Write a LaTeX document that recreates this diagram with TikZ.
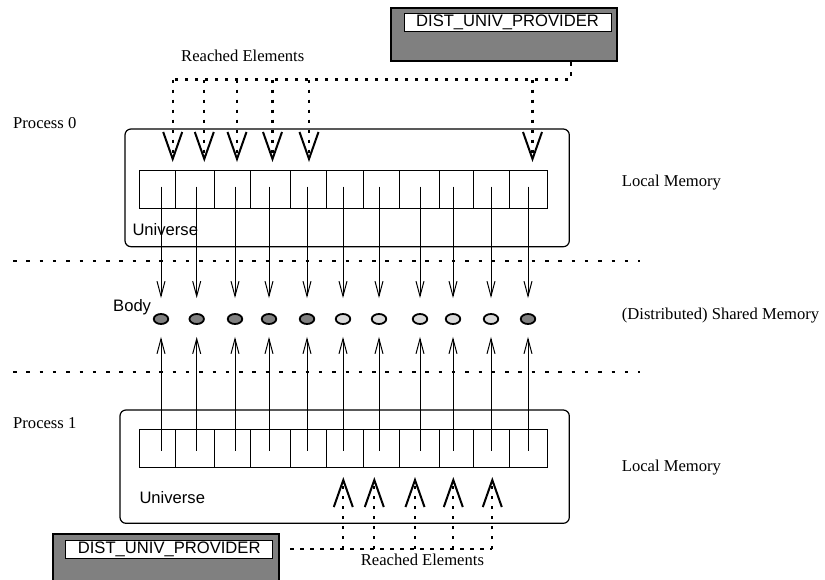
\documentclass[tikz,border=0pt]{standalone}
\usepackage{fontspec}
\setmainfont{Liberation Serif}
\setsansfont{Liberation Sans}
\usetikzlibrary{arrows.meta,shapes.geometric,calc}
\definecolor{provgray}{HTML}{808080}
\definecolor{bodydark}{HTML}{808080}
\definecolor{bodylight}{HTML}{D9D9D9}
\begin{document}
\begin{tikzpicture}[x=1pt,y=-1pt,
  lbl/.style={font=\fontsize{16.6}{18}\selectfont, inner sep=0pt, anchor=base west},
  slbl/.style={font=\sffamily\fontsize{16.6}{18}\selectfont, inner sep=0pt, anchor=base west},
  provbox/.style={draw, fill=provgray, line width=2.5pt, minimum width=226pt, minimum height=53pt, inner sep=0pt},
  provtxt/.style={draw, fill=white, line width=1pt, minimum width=207pt, minimum height=18pt, inner sep=0pt, font=\sffamily\fontsize{16.6}{18}\selectfont},
  membox/.style={draw, line width=1.2pt, rounded corners=6pt, inner sep=0pt},
  cellbox/.style={draw, line width=1pt, inner sep=0pt},
  bodynode/.style={draw, ellipse, line width=1.8pt, minimum width=14.5pt, minimum height=10pt, inner sep=0pt},
  sepline/.style={line width=2.2pt, dash pattern=on 3.5pt off 9.8pt},
  dotline/.style={line width=2.2pt, dash pattern=on 3.5pt off 6.5pt},
  reach/.style={dotline, -{Straight Barb[length=27pt,width=19pt,line width=2pt]}},
  barb/.style={line width=1pt, -{Straight Barb[length=15pt,width=8pt]}}
]
\useasboundingbox (0,0) rectangle (825,579);

% separators
\draw[sepline] (13,261) -- (640,261);
\draw[sepline] (13,372) -- (640,372);

% memory boxes
\node[membox, minimum width=444.3pt, minimum height=117.7pt] (mem0) at (347.15,187.85) {};
\node[membox, minimum width=449.3pt, minimum height=113.3pt] (mem1) at (344.65,466.65) {};

% cells, bodies, arrows
\foreach \l/\r/\lx/\c [count=\i] in {139.3/175/161/bodydark, 175/214/196.7/bodydark, 214/250/235/bodydark, 250/290.7/269/bodydark, 290.7/326.7/307/bodydark, 326.7/363/343/bodylight, 363/399/379/bodylight, 399/439/420/bodylight, 439/473/453/bodylight, 473/509/491/bodylight, 509/547.3/528/bodydark} {
  \node[cellbox, minimum width={\r-\l}, minimum height=38.3pt] (t\i) at ({(\l+\r)/2},189.15) {};
  \node[cellbox, minimum width={\r-\l}, minimum height=38.4pt] (b\i) at ({(\l+\r)/2},448.5) {};
  \coordinate (ts\i) at (\lx,186.7);
  \coordinate (bs\i) at (\lx,450.7);
  \node[bodynode, fill=\c] (body\i) at (\lx,319) {};
}
\foreach \i in {1,...,11} {
  \draw[barb] (ts\i) -- ([yshift=15pt]body\i.north);
  \draw[barb] (bs\i) -- ([yshift=-12pt]body\i.south);
}

% providers
\node[provbox] (prov0) at (504,34.7) {};
\node[provtxt] (prov0t) at (507.5,22.8) {DIST\_UNIV\_PROVIDER};
\node[provbox] (prov1) at (166,560.5) {};
\node[provtxt] (prov1t) at (169.2,549.2) {DIST\_UNIV\_PROVIDER};

% top reached elements
\coordinate (hub0) at (571,79.5);
\foreach \x [count=\i] in {172.7,204.3,237,272.5,309,532.5} {
  \coordinate (rj\i) at (\x,79.5);
  \coordinate (rt\i) at (\x,162);
}
\draw[dotline] (prov0.south -| hub0) -- (hub0) -- (rj1);
\foreach \i in {1,...,6} { \draw[reach] (rj\i) -- (rt\i); }

% bottom reached elements
\coordinate (hub1) at ($(prov1t.east -| prov1.east)+(10,0)$);
\foreach \x [count=\i] in {343.3,374.3,415,453.3,492.3} {
  \coordinate (sj\i) at (\x,549.2);
  \coordinate (st\i) at (\x,477);
}
\draw[dotline] (hub1) -- (sj5);
\foreach \i in {1,...,5} { \draw[reach] (sj\i) -- (st\i); }

% labels
\node[lbl] (p0) at (13,128) {Process 0};
\node[lbl] (p1) at (13,428) {Process 1};
\node[lbl] (lm0) at (621.7,186.7) {Local Memory};
\node[lbl] (lm1) at (621.7,471) {Local Memory};
\node[lbl] (dsm) at (621.7,319) {(Distributed) Shared Memory};
\node[lbl] (re0) at (181,61.7) {Reached Elements};
\node[lbl] (re1) at (360.7,565) {Reached Elements};
\node[slbl] (bodyl) at (113,311.7) {Body};
\node[slbl] (un0) at (132.3,235) {Universe};
\node[slbl] (un1) at (139.3,503) {Universe};
\end{tikzpicture}
\end{document}
